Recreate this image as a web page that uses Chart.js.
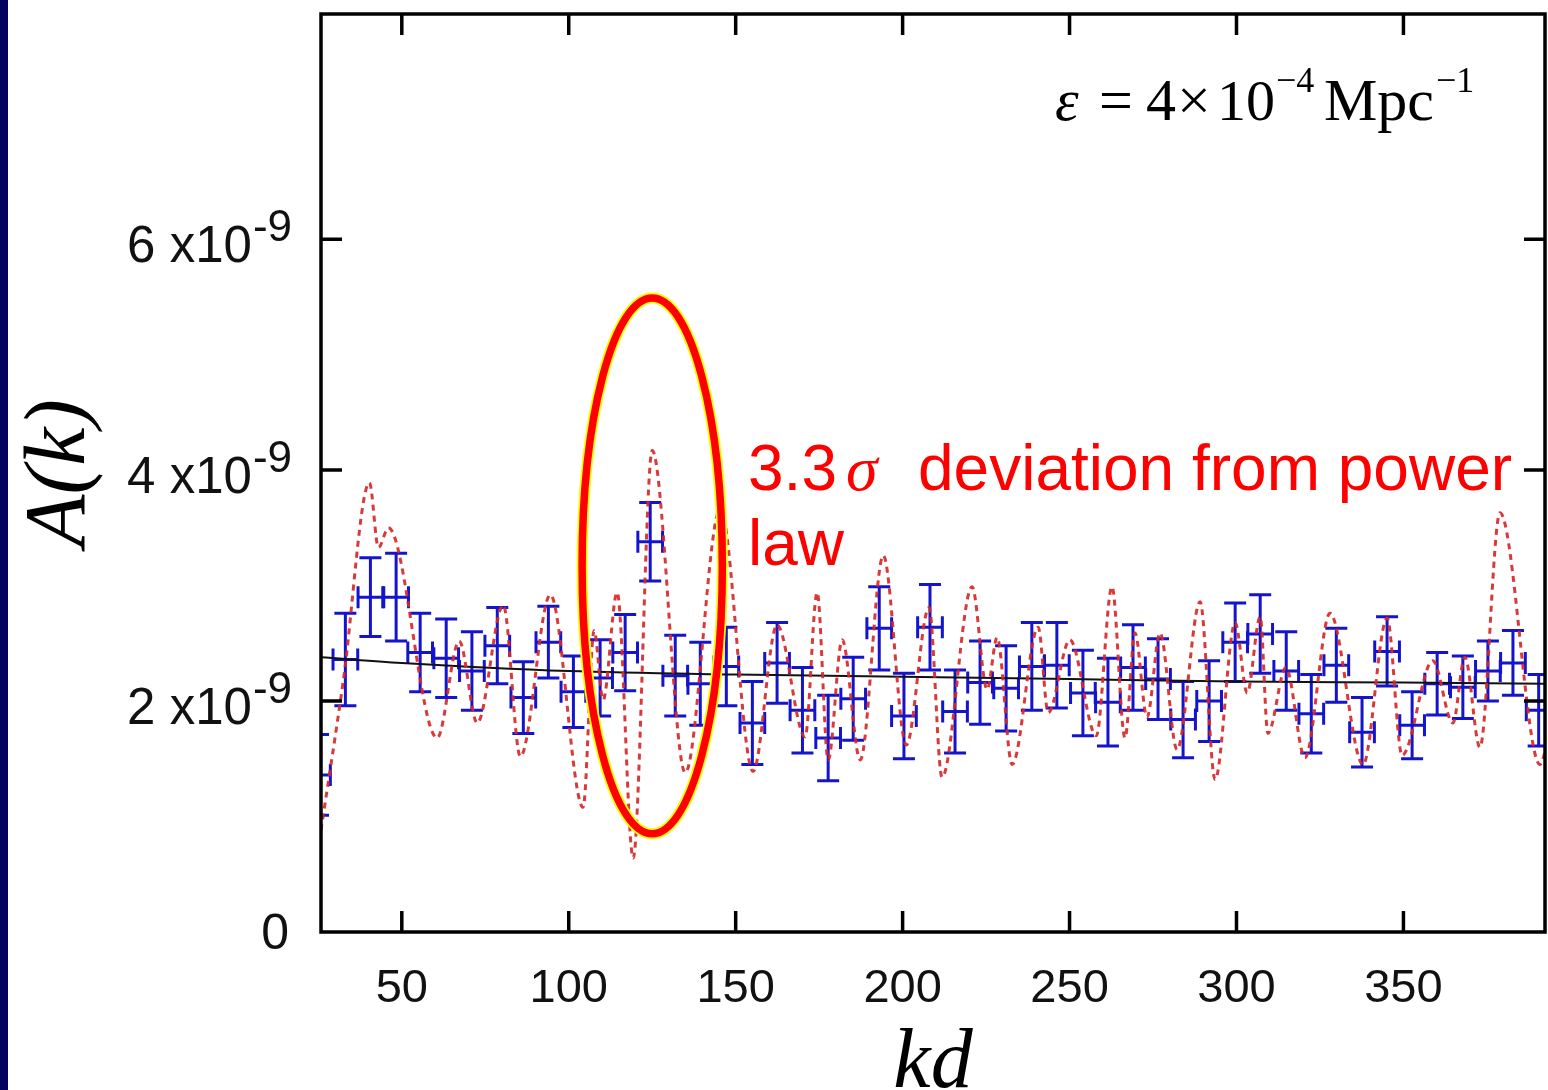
<!DOCTYPE html>
<html>
<head>
<meta charset="utf-8">
<title>A(k) vs kd</title>
<script src="https://cdn.jsdelivr.net/npm/chart.js@4.4.1/dist/chart.umd.min.js"></script>
<style>
  html, body { margin: 0; padding: 0; background: #fff; }
  #wrap { position: relative; width: 1548px; height: 1090px; overflow: hidden; }
  #strip { position: absolute; left: 0; top: 0; width: 8px; height: 1090px; background: #03035f; }
  canvas { position: absolute; left: 0; top: 0; }
</style>
</head>
<body>
<div id="wrap">
  <canvas id="akChart" width="1548" height="1090"></canvas>
  <div id="strip"></div>
</div>
<script>
// binned points (A in units of 1e-9)
const binKd = [24.9, 33.1, 40.6, 48.3, 55.5, 63.3, 71.0, 78.6, 86.4, 93.9,
  101.4, 109.4, 116.9, 124.4, 131.9, 139.4, 147.2, 155.0, 162.4, 170.0,
  177.7, 185.2, 193.0, 200.4, 208.2, 215.7, 223.2, 231.0, 238.7, 246.2,
  254.0, 261.5, 269.0, 276.5, 284.0, 291.8, 299.6, 307.1, 314.9, 322.4,
  329.9, 337.6, 345.1, 352.6, 360.1, 367.8, 375.3, 382.8, 390.5];
const binAmp = [1.36, 2.36, 2.90, 2.90, 2.42, 2.37, 2.26, 2.48, 2.03, 2.51,
  2.08, 2.20, 2.42, 3.38, 2.22, 2.15, 2.30, 1.81, 2.33, 1.92,
  1.68, 2.02, 2.63, 1.87, 2.64, 1.91, 2.16, 2.11, 2.30, 2.31,
  2.07, 1.99, 2.29, 2.19, 1.84, 2.00, 2.51, 2.58, 2.26, 1.89,
  2.31, 1.73, 2.43, 1.79, 2.15, 2.12, 2.26, 2.33, 1.92];
const binErr = [0.35, 0.40, 0.34, 0.38, 0.34, 0.34, 0.34, 0.33, 0.31, 0.31,
  0.31, 0.33, 0.33, 0.34, 0.35, 0.36, 0.34, 0.36, 0.35, 0.37,
  0.37, 0.36, 0.36, 0.37, 0.37, 0.36, 0.36, 0.37, 0.38, 0.37,
  0.37, 0.38, 0.37, 0.35, 0.33, 0.35, 0.34, 0.34, 0.34, 0.34,
  0.32, 0.30, 0.30, 0.29, 0.27, 0.27, 0.26, 0.28, 0.31];
const binHalfWidth = 3.7;

// reconstructed spectrum (red dashed)
const curveKd = [25.8, 32.5, 40.3, 43.0, 46.0, 60.6, 67.2, 72.6, 80.4, 85.5,
  94.5, 104.3, 107.6, 110.3, 114.5, 119.3, 125.0, 134.9, 145.4, 155.2,
  162.4, 170.8, 174.4, 177.7, 181.9, 187.3, 194.2, 201.1, 207.9, 211.8,
  220.8, 225.3, 228.3, 232.8, 240.6, 243.6, 250.1, 258.0, 262.7, 266.6,
  269.6, 273.2, 277.1, 282.2, 289.1, 293.6, 299.6, 303.2, 307.1, 309.4,
  314.8, 320.5, 328.0, 337.9, 345.1, 349.6, 358.8, 364.8, 368.4, 372.9,
  378.9, 390.9, 393.3];
const curveAmp = [0.88, 2.18, 3.89, 3.33, 3.50, 1.68, 2.52, 1.81, 2.83, 1.52,
  2.92, 1.08, 2.61, 2.01, 2.94, 0.64, 4.17, 1.38, 3.67, 1.39,
  2.66, 1.69, 2.94, 1.49, 2.53, 1.49, 3.26, 1.62, 2.81, 1.34,
  2.99, 2.10, 2.55, 1.45, 2.64, 1.90, 2.53, 1.70, 2.99, 1.68,
  2.59, 1.86, 2.59, 1.58, 2.86, 1.32, 2.68, 2.07, 2.73, 1.72,
  2.29, 1.51, 2.76, 1.45, 2.72, 1.53, 2.35, 1.81, 2.38, 1.60,
  3.63, 1.45, 1.66];

// power law fit (black)
const lawKd = [25.8, 50, 100, 150, 200, 250, 300, 350, 393];
const lawAmp = [2.38, 2.33, 2.26, 2.23, 2.21, 2.19, 2.17, 2.16, 2.15];

const kdTicks = [50, 100, 150, 200, 250, 300, 350];
const ampTicks = [0, 2, 4, 6];

const bins = binKd.map((k, i) => ({ x: k, y: binAmp[i], err: binErr[i] }));
const curve = curveKd.map((k, i) => ({ x: k, y: curveAmp[i] }));
const plaw = lawKd.map((k, i) => ({ x: k, y: lawAmp[i] }));

function seg(ctx, x0, y0, x1, y1) {
  ctx.moveTo(x0, y0);
  ctx.lineTo(x1, y1);
}

const overlay = {
  id: 'overlay',
  beforeDatasetsDraw(chart) {
    const { ctx, chartArea: a, scales: { x, y } } = chart;
    const cap = 11;
    ctx.save();
    ctx.beginPath();
    ctx.rect(a.left, a.top, a.right - a.left, a.bottom - a.top);
    ctx.clip();
    ctx.strokeStyle = '#1414cc';
    ctx.lineWidth = 3;
    bins.forEach(b => {
      const px = x.getPixelForValue(b.x), py = y.getPixelForValue(b.y);
      const x0 = x.getPixelForValue(b.x - binHalfWidth), x1 = x.getPixelForValue(b.x + binHalfWidth);
      const y0 = y.getPixelForValue(b.y + b.err), y1 = y.getPixelForValue(b.y - b.err);
      ctx.beginPath();
      seg(ctx, x0, py, x1, py);
      seg(ctx, px, y0, px, y1);
      seg(ctx, px - cap, y0, px + cap, y0);
      seg(ctx, px - cap, y1, px + cap, y1);
      seg(ctx, x0, py - cap, x0, py + cap);
      seg(ctx, x1, py - cap, x1, py + cap);
      ctx.stroke();
    });
    ctx.restore();
  },
  afterDraw(chart) {
    const { ctx, chartArea: a, scales: { x, y } } = chart;
    ctx.save();
    // frame and inward ticks
    ctx.strokeStyle = '#000';
    ctx.lineWidth = 3.5;
    ctx.strokeRect(a.left, a.top, a.right - a.left, a.bottom - a.top);
    const tl = 21;
    ctx.beginPath();
    x.ticks.forEach(t => {
      const px = x.getPixelForValue(t.value);
      seg(ctx, px, a.bottom, px, a.bottom - tl);
      seg(ctx, px, a.top, px, a.top + tl);
    });
    y.ticks.forEach(t => {
      if (t.value === 0) return;
      const py = y.getPixelForValue(t.value);
      seg(ctx, a.left, py, a.left + tl, py);
      seg(ctx, a.right, py, a.right - tl, py);
    });
    ctx.stroke();

    // y tick labels with superscript exponent
    ctx.fillStyle = '#111';
    ctx.textBaseline = 'alphabetic';
    const rx = 292;
    y.ticks.forEach(t => {
      const py = y.getPixelForValue(t.value);
      if (t.value === 0) {
        ctx.font = '50px "Liberation Sans"';
        ctx.textAlign = 'right';
        ctx.fillText('0', 289, py + 17);
        return;
      }
      ctx.font = '44px "Liberation Sans"';
      const sw = ctx.measureText('-9').width;
      ctx.textAlign = 'left';
      ctx.fillText('-9', rx - sw, py + 2);
      ctx.font = '51px "Liberation Sans"';
      ctx.textAlign = 'right';
      ctx.fillText(t.value + ' x10', rx - sw - 1, py + 23);
    });

    // axis titles
    ctx.font = 'italic 84px "Liberation Serif"';
    ctx.textAlign = 'center';
    ctx.fillStyle = '#000';
    ctx.fillText('kd', (a.left + a.right) / 2, 1087);
    ctx.save();
    ctx.translate(84, (a.top + a.bottom) / 2);
    ctx.rotate(-Math.PI / 2);
    ctx.font = 'italic 86px "Liberation Serif"';
    ctx.fillText('A(k)', 0, 0);
    ctx.restore();

    // epsilon annotation
    ctx.textAlign = 'left';
    const base = 120;
    const put = (txt, font, px, dy) => {
      ctx.font = font;
      ctx.fillText(txt, px, base + dy);
    };
    put('ε', 'italic 60px "Liberation Serif"', 1055, 0);
    put('=', '60px "Liberation Serif"', 1099, 0);
    put('4', '60px "Liberation Serif"', 1146, 0);
    put('×', '60px "Liberation Serif"', 1177, 0);
    put('10', '58px "Liberation Serif"', 1217, 0);
    put('−4', '36px "Liberation Serif"', 1276, -28);
    put('Mpc', '60px "Liberation Serif"', 1324, 0);
    put('−1', '36px "Liberation Serif"', 1436, -28);

    // highlight ellipse
    const ex = x.getPixelForValue(125), ey = y.getPixelForValue(3.17);
    const erx = x.getPixelForValue(146) - ex, ery = ey - y.getPixelForValue(5.49);
    ctx.beginPath();
    ctx.ellipse(ex, ey, erx, ery, 0, 0, Math.PI * 2);
    ctx.strokeStyle = '#ffff00';
    ctx.lineWidth = 11;
    ctx.stroke();
    ctx.strokeStyle = '#ff0000';
    ctx.lineWidth = 7.5;
    ctx.stroke();

    // red note
    ctx.fillStyle = '#ff0000';
    ctx.font = '64px "Liberation Sans"';
    ctx.fillText('3.3', 748, 490);
    ctx.font = 'italic 64px "Liberation Serif"';
    ctx.fillText('σ', 846, 490);
    ctx.font = '64px "Liberation Sans"';
    ctx.fillText('deviation from power', 918, 490);
    ctx.fillText('law', 748, 565);
    ctx.restore();
  }
};

new Chart(document.getElementById('akChart').getContext('2d'), {
  type: 'scatter',
  data: {
    datasets: [
      { label: 'binned', data: bins, pointRadius: 0, showLine: false },
      {
        label: 'reconstructed', data: curve, showLine: true, pointRadius: 0,
        borderColor: 'rgba(214,40,40,0.92)', borderWidth: 3, borderDash: [6, 5],
        cubicInterpolationMode: 'monotone', clip: 0
      },
      {
        label: 'power law', data: plaw, showLine: true, pointRadius: 0,
        borderColor: '#111', borderWidth: 2,
        cubicInterpolationMode: 'monotone', clip: 0
      }
    ]
  },
  options: {
    responsive: false,
    animation: false,
    layout: { padding: { top: 14, right: 3, left: 0, bottom: 0 } },
    plugins: { legend: { display: false }, tooltip: { enabled: false } },
    scales: {
      x: {
        type: 'linear', min: 25.8, max: 392.4,
        grid: { display: false }, border: { display: false },
        afterBuildTicks: s => { s.ticks = kdTicks.map(v => ({ value: v })); },
        afterFit: s => { s.height = 158; },
        ticks: {
          font: { family: 'Liberation Sans', size: 47 }, color: '#111',
          padding: 21, maxRotation: 0, autoSkip: false
        }
      },
      y: {
        type: 'linear', min: 0, max: 7.95,
        grid: { display: false }, border: { display: false },
        afterBuildTicks: s => { s.ticks = ampTicks.map(v => ({ value: v })); },
        afterFit: s => { s.width = 321; },
        ticks: { display: false }
      }
    }
  },
  plugins: [overlay]
});
</script>
</body>
</html>
